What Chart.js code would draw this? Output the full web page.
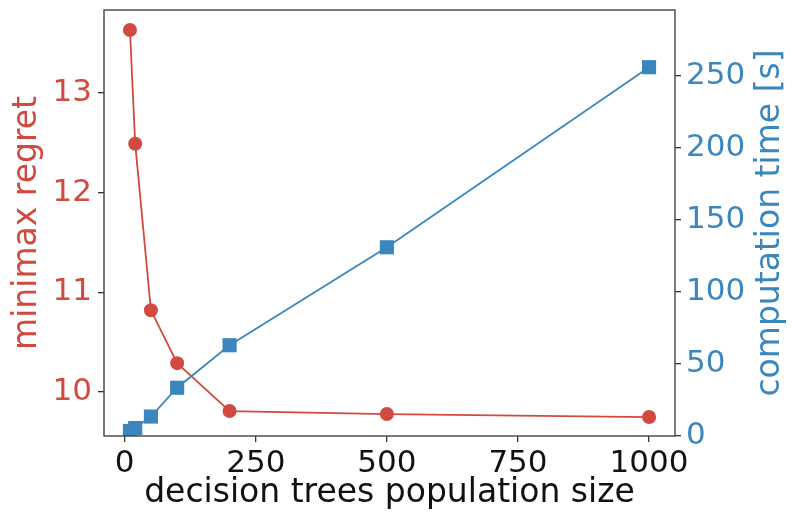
<!DOCTYPE html>
<html>
<head>
<meta charset="utf-8">
<script src="https://cdn.jsdelivr.net/npm/chart.js@4"></script>
<style>
  body { margin: 0; background: #fff; }
  canvas { display: block; }
</style>
</head>
<body>
<canvas id="chart" width="792" height="523"></canvas>
<script>
// values
var popSizes = [10, 20, 50, 100, 200, 500, 1000];
var regret = [13.63, 12.49, 10.82, 10.29, 9.81, 9.78, 9.75];
var compTime = [3.5, 5.5, 13.5, 33.5, 63, 131, 256];

var xTicks = [0, 250, 500, 750, 1000];
var regretTicks = [10, 11, 12, 13];
var timeTicks = [0, 50, 100, 150, 200, 250];

var RED = "#d1493f";
var BLUE = "#3b87bd";
var FONT = "'DejaVu Sans', sans-serif";

function toPoints(xs, ys){
  return xs.map(function(x, i){ return {x: x, y: ys[i]}; });
}

function fixedTicks(list){
  return function(scale){
    scale.ticks = list.map(function(v){ return {value: v}; });
  };
}

// fixed box size, no extra room for labels sticking out
function fixSize(w, h){
  return function(scale){
    if (w !== null) scale.width = w;
    if (h !== null) scale.height = h;
    scale.paddingTop = 0;
    scale.paddingBottom = 0;
    scale.paddingLeft = 0;
    scale.paddingRight = 0;
  };
}

function plainLabel(value){
  return String(value);
}

// matplotlib style box round the plot, plus the right label read bottom-to-top
var framePlugin = {
  id: "frame",
  afterDraw: function(chart){
    var a = chart.chartArea;
    var ctx = chart.ctx;
    ctx.save();
    ctx.strokeStyle = "#444";
    ctx.lineWidth = 1.4;
    ctx.strokeRect(a.left, a.top, a.right - a.left, a.bottom - a.top);

    ctx.fillStyle = BLUE;
    ctx.font = "33px " + FONT;
    ctx.textAlign = "center";
    ctx.textBaseline = "middle";
    ctx.translate(770, (a.top + a.bottom) / 2);
    ctx.rotate(-Math.PI / 2);
    ctx.fillText("computation time [s]", 0, 0);
    ctx.restore();
  }
};

var ctx = document.getElementById("chart").getContext("2d");

new Chart(ctx, {
  type: "line",
  data: {
    datasets: [
      {
        label: "minimax regret",
        data: toPoints(popSizes, regret),
        yAxisID: "yL",
        borderColor: RED,
        backgroundColor: RED,
        borderWidth: 1.8,
        pointRadius: 7,
        pointBorderWidth: 0,
        pointStyle: "circle",
        order: 2
      },
      {
        label: "computation time [s]",
        data: toPoints(popSizes, compTime),
        yAxisID: "yR",
        borderColor: BLUE,
        backgroundColor: BLUE,
        borderWidth: 1.8,
        pointRadius: 10,
        pointBorderWidth: 0,
        pointStyle: "rect",
        order: 1
      }
    ]
  },
  options: {
    responsive: false,
    animation: false,
    layout: { padding: { top: 9, left: 0, right: 0, bottom: 0 } },
    plugins: {
      legend: { display: false },
      tooltip: { enabled: false }
    },
    scales: {
      x: {
        type: "linear",
        min: -39.5,
        max: 1049.5,
        afterBuildTicks: fixedTicks(xTicks),
        afterFit: fixSize(null, 87),
        border: { display: false },
        grid: { drawOnChartArea: false, drawTicks: true, tickLength: 6, color: "#333", lineWidth: 1.3 },
        ticks: { color: "#111", padding: 3, callback: plainLabel, font: { family: FONT, size: 31 } },
        title: {
          display: true,
          text: "decision trees population size",
          color: "#111",
          padding: 10,
          font: { family: FONT, size: 33 }
        }
      },
      yL: {
        type: "linear",
        position: "left",
        min: 9.56,
        max: 13.83,
        afterBuildTicks: fixedTicks(regretTicks),
        afterFit: fixSize(104, null),
        border: { display: false },
        grid: { drawOnChartArea: false, drawTicks: true, tickLength: 6, color: "#333", lineWidth: 1.3 },
        ticks: { color: RED, padding: 6, callback: plainLabel, font: { family: FONT, size: 31 } },
        title: {
          display: true,
          text: "minimax regret",
          color: RED,
          padding: 8,
          font: { family: FONT, size: 33 }
        }
      },
      yR: {
        type: "linear",
        position: "right",
        min: 0,
        max: 295.7,
        afterBuildTicks: fixedTicks(timeTicks),
        afterFit: fixSize(117, null),
        border: { display: false },
        grid: { drawOnChartArea: false, drawTicks: true, tickLength: 6, color: "#333", lineWidth: 1.3 },
        ticks: { color: BLUE, padding: 5, callback: plainLabel, font: { family: FONT, size: 31 } }
      }
    }
  },
  plugins: [framePlugin]
});
</script>
</body>
</html>
